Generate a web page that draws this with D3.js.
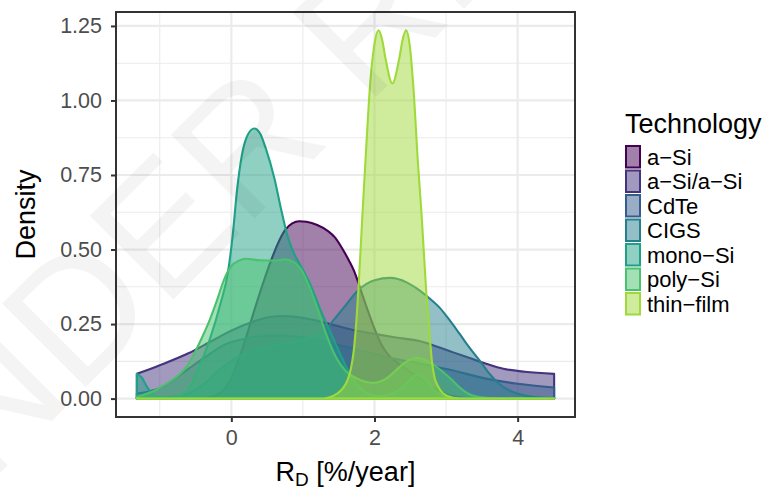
<!DOCTYPE html>
<html>
<head>
<meta charset="utf-8">
<script src="https://cdn.jsdelivr.net/npm/d3@7"></script>
<style>
  body { margin: 0; background: #fff; }
  svg { display: block; font-family: "Liberation Sans", Arial, Helvetica, sans-serif; }
</style>
</head>
<body>
<svg id="chart" width="772" height="489"></svg>
<script>
// Technologies and their viridis colours
const technologies = ["a-Si", "a-Si/a-Si", "CdTe", "CIGS", "mono-Si", "poly-Si", "thin-film"];
const techColors = ["#440154", "#46337E", "#365C8D", "#277F8E", "#1FA187", "#4AC16D", "#9FDA3A"];

// Kernel density estimates of the degradation rate R_D, as [R_D, density] pairs
const aSi = [[-1.32,0],[-0.5,0],[-0.3,0.004],[-0.15,0.02],[0,0.07],[0.1,0.13],[0.2,0.2],[0.3,0.28],[0.42,0.37],[0.55,0.46],[0.65,0.52],[0.75,0.565],[0.85,0.588],[0.95,0.595],[1.05,0.593],[1.2,0.582],[1.35,0.562],[1.45,0.54],[1.57,0.495],[1.65,0.46],[1.72,0.425],[1.8,0.37],[1.9,0.3],[2.0,0.235],[2.1,0.18],[2.2,0.145],[2.35,0.115],[2.5,0.09],[2.65,0.065],[2.8,0.04],[3.0,0.015],[3.2,0.004],[3.4,0],[4.51,0]];
const aSiaSi = [[-1.32,0.083],[-1.0,0.112],[-0.6,0.152],[-0.3,0.19],[0,0.228],[0.3,0.258],[0.5,0.272],[0.7,0.277],[0.9,0.274],[1.1,0.266],[1.35,0.252],[1.7,0.23],[2.0,0.217],[2.3,0.205],[2.64,0.192],[2.9,0.172],[3.1,0.155],[3.33,0.136],[3.56,0.117],[3.8,0.1],[4.1,0.09],[4.51,0.083]];
const cdTe = [[-1.32,0.017],[-1.0,0.035],[-0.6,0.1],[-0.3,0.15],[-0.1,0.18],[0.23,0.203],[0.5,0.21],[0.8,0.21],[1.05,0.203],[1.25,0.194],[1.5,0.18],[1.75,0.165],[2.0,0.15],[2.3,0.133],[2.64,0.117],[3.1,0.094],[3.56,0.067],[4.0,0.05],[4.51,0.037]];
const cigs = [[-1.32,0],[-1.0,0.002],[-0.8,0.006],[-0.6,0.017],[-0.4,0.045],[-0.15,0.1],[0.1,0.14],[0.32,0.16],[0.55,0.175],[0.8,0.187],[1.0,0.198],[1.25,0.217],[1.4,0.255],[1.57,0.305],[1.78,0.365],[2.0,0.397],[2.22,0.405],[2.45,0.39],[2.6,0.368],[2.75,0.34],[2.91,0.305],[3.05,0.263],[3.19,0.217],[3.33,0.17],[3.47,0.127],[3.6,0.085],[3.74,0.05],[3.88,0.028],[4.02,0.015],[4.2,0.006],[4.51,0.001]];
const monoSi = [[-1.32,0.083],[-1.25,0.07],[-1.18,0.04],[-1.1,0.015],[-1.0,0.004],[-0.85,0.003],[-0.7,0.012],[-0.6,0.03],[-0.46,0.1],[-0.3,0.2],[-0.15,0.32],[-0.05,0.42],[0.02,0.55],[0.08,0.7],[0.15,0.82],[0.23,0.885],[0.32,0.906],[0.4,0.89],[0.48,0.84],[0.6,0.74],[0.7,0.63],[0.78,0.55],[0.86,0.495],[0.97,0.445],[1.1,0.385],[1.25,0.295],[1.39,0.22],[1.53,0.145],[1.65,0.085],[1.78,0.04],[1.9,0.018],[2.05,0.008],[2.2,0.012],[2.35,0.03],[2.48,0.06],[2.6,0.08],[2.72,0.06],[2.85,0.025],[3.0,0.006],[3.2,0],[4.51,0]];
const polySi = [[-1.32,0.005],[-1.07,0.027],[-0.9,0.05],[-0.74,0.078],[-0.6,0.115],[-0.5,0.16],[-0.4,0.21],[-0.3,0.265],[-0.2,0.33],[-0.1,0.4],[0,0.445],[0.1,0.462],[0.2,0.469],[0.4,0.464],[0.6,0.463],[0.75,0.467],[0.87,0.458],[0.97,0.435],[1.1,0.37],[1.22,0.29],[1.35,0.2],[1.47,0.135],[1.6,0.092],[1.75,0.068],[1.9,0.055],[2.0,0.053],[2.15,0.065],[2.3,0.095],[2.45,0.125],[2.6,0.137],[2.75,0.125],[2.9,0.1],[3.05,0.07],[3.2,0.035],[3.37,0.01],[3.6,0.002],[4.51,0]];
const thinFilm = [[-1.32,0],[1.25,0],[1.35,0.003],[1.48,0.017],[1.56,0.035],[1.62,0.06],[1.67,0.1],[1.71,0.16],[1.75,0.27],[1.78,0.385],[1.83,0.61],[1.87,0.78],[1.94,1.057],[2.0,1.19],[2.057,1.235],[2.11,1.2],[2.15,1.146],[2.25,1.057],[2.35,1.146],[2.39,1.2],[2.44,1.235],[2.49,1.19],[2.54,1.057],[2.61,0.78],[2.66,0.61],[2.72,0.37],[2.76,0.25],[2.8,0.13],[2.84,0.07],[2.88,0.045],[2.96,0.017],[3.1,0.003],[3.3,0],[4.51,0]];

const seriesValues = [aSi, aSiaSi, cdTe, cigs, monoSi, polySi, thinFilm];

// Axis ticks
const xTicks = [0, 2, 4];
const xMinorTicks = [-1, 1, 3];
const yTicks = [0, 0.25, 0.5, 0.75, 1.0, 1.25];
const yMinorTicks = [0.125, 0.375, 0.625, 0.875, 1.125];

const svg = d3.select("#chart");
const panel = { left: 116, right: 575, top: 12, bottom: 417 };

// Continuous scales with a 5% expansion either side of the data
const allPts = seriesValues.flat();
const xExt = d3.extent(allPts, d => d[0]);
const xPad = (xExt[1] - xExt[0]) * 0.05;
const yMax = d3.max(allPts, d => d[1]);
const x = d3.scaleLinear().domain([xExt[0] - xPad, xExt[1] + xPad]).range([panel.left, panel.right]);
const y = d3.scaleLinear().domain([-yMax * 0.05, yMax * 1.05]).range([panel.bottom, panel.top]);

// Panel background and grid
svg.append("rect").attr("x", panel.left).attr("y", panel.top)
  .attr("width", panel.right - panel.left).attr("height", panel.bottom - panel.top).attr("fill", "#fff");

const grid = svg.append("g").attr("stroke", "#EBEBEB").attr("fill", "none");
grid.selectAll(".ymin").data(yMinorTicks).join("line")
  .attr("x1", panel.left).attr("x2", panel.right).attr("y1", d => y(d)).attr("y2", d => y(d)).attr("stroke-width", 1.1);
grid.selectAll(".xmin").data(xMinorTicks).join("line")
  .attr("y1", panel.top).attr("y2", panel.bottom).attr("x1", d => x(d)).attr("x2", d => x(d)).attr("stroke-width", 1.1);
grid.selectAll(".ymaj").data(yTicks).join("line")
  .attr("x1", panel.left).attr("x2", panel.right).attr("y1", d => y(d)).attr("y2", d => y(d)).attr("stroke-width", 2.2);
grid.selectAll(".xmaj").data(xTicks).join("line")
  .attr("y1", panel.top).attr("y2", panel.bottom).attr("x1", d => x(d)).attr("x2", d => x(d)).attr("stroke-width", 2.2);

// Density areas, drawn as closed outlines
const area = d3.area()
  .x(d => x(d[0]))
  .y0(y(0))
  .y1(d => y(d[1]))
  .curve(d3.curveMonotoneX);

svg.append("g").selectAll("path").data(seriesValues).join("path")
  .attr("d", d => area(d))
  .attr("fill", (d, i) => techColors[i])
  .attr("fill-opacity", 0.5)
  .attr("stroke", (d, i) => techColors[i])
  .attr("stroke-width", 2.1)
  .attr("stroke-linejoin", "round");

// Panel border
svg.append("rect").attr("x", panel.left).attr("y", panel.top)
  .attr("width", panel.right - panel.left).attr("height", panel.bottom - panel.top)
  .attr("fill", "none").attr("stroke", "#333333").attr("stroke-width", 2);

// Axes
const yAxis = svg.append("g").attr("transform", `translate(${panel.left},0)`)
  .call(d3.axisLeft(y).tickValues(yTicks).tickFormat(d3.format(".2f")).tickSize(5).tickPadding(9));
const xAxis = svg.append("g").attr("transform", `translate(0,${panel.bottom})`)
  .call(d3.axisBottom(x).tickValues(xTicks).tickFormat(d3.format("d")).tickSize(5).tickPadding(8));
[xAxis, yAxis].forEach(a => {
  a.select(".domain").remove();
  a.selectAll(".tick line").attr("stroke", "#333333").attr("stroke-width", 2);
  a.selectAll(".tick text").attr("fill", "#4D4D4D").attr("font-size", 21.5)
    .attr("font-family", "'Liberation Sans', Arial, sans-serif");
});

// Axis titles
const xTitle = svg.append("text").attr("x", (panel.left + panel.right) / 2).attr("y", 481)
  .attr("text-anchor", "middle").attr("font-size", 27).attr("fill", "#000");
xTitle.append("tspan").text("R");
xTitle.append("tspan").text("D").attr("font-size", 19).attr("dy", 5);
xTitle.append("tspan").text(" [%/year]").attr("dy", -5);

svg.append("text").attr("transform", `translate(35,${(panel.top + panel.bottom) / 2}) rotate(-90)`)
  .attr("text-anchor", "middle").attr("font-size", 27).attr("fill", "#000").text("Density");

// Legend
const legend = svg.append("g").attr("transform", "translate(625,0)");
legend.append("text").attr("x", 0).attr("y", 133).attr("font-size", 27).attr("fill", "#000").text("Technology");
const rows = legend.selectAll("g.row").data(technologies).join("g")
  .attr("transform", (d, i) => `translate(0,${145 + i * 24.5})`);
rows.append("rect").attr("x", 1).attr("y", 1).attr("width", 14).attr("height", 21.5)
  .attr("fill", (d, i) => techColors[i]).attr("fill-opacity", 0.5)
  .attr("stroke", (d, i) => techColors[i]).attr("stroke-width", 2);
rows.append("text").attr("x", 22).attr("y", 11.75).attr("dy", "0.36em")
  .attr("font-size", 22).attr("fill", "#000").text(d => d.replace(/-/g, "\u2212"));

// Diagonal watermark
svg.append("text").attr("transform", "translate(-100,573) rotate(-45)")
  .attr("font-size", 172).attr("fill", "#000").attr("fill-opacity", 0.045)
  .attr("pointer-events", "none").text("UNDER REVIEW");
</script>
</body>
</html>
